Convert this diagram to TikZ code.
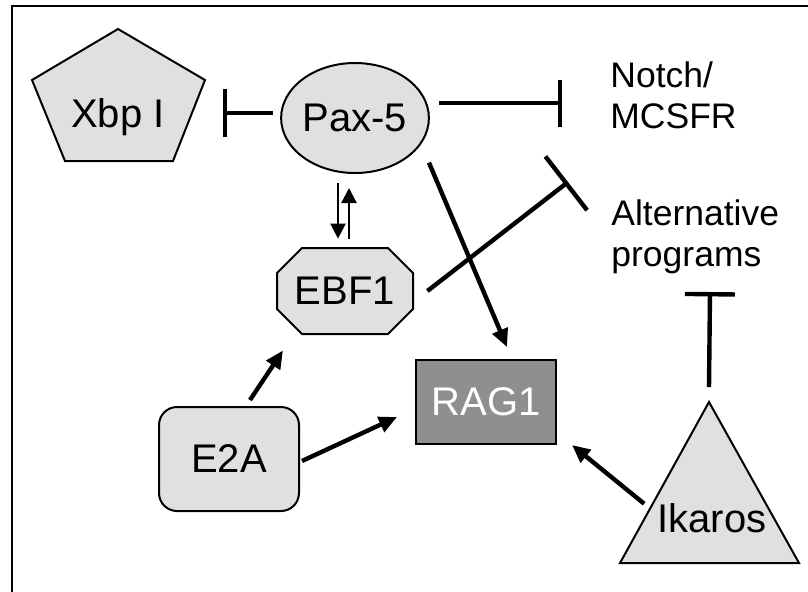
\documentclass[tikz,border=0pt]{standalone}
\usepackage{fontspec}
\setmainfont{Liberation Sans}
\usetikzlibrary{shapes.geometric, arrows.meta}

\begin{document}
\begin{tikzpicture}[
    x=0.5pt, y=-0.5pt,
    every node/.style={font=\fontsize{20}{21}\selectfont, inner sep=0pt},
    factor/.style={draw, fill=black!12, line width=1pt},
    act/.style={-{Triangle[length=9pt, width=8pt]}, line width=2.2pt},
    thin act/.style={-{Triangle[length=7.5pt, width=7.5pt]}, line width=1.2pt},
    inhib/.style={-{Bar[width=#1]}, line width=2.2pt},
    inhib/.default=24pt,
    program/.style={align=left, anchor=north west, font=\fontsize{17.75}{20.5}\selectfont}
]
\useasboundingbox (0,0) rectangle (808,591);
\clip (0,0) rectangle (808,591);

% frame
\draw[line width=1pt] (12,6) rectangle (830,620);

% shapes
\draw[factor] (118,29) -- (205,80) -- (173,161) -- (65,161) -- (32,80) -- cycle;
\node[anchor=base] (xbp) at (118,127) {Xbp I};
\node[factor, ellipse, minimum width=70.5pt, minimum height=55pt] (pax) at (355,118) {Pax-5};
\draw[factor] (302,248) -- (388,248) -- (413,273) -- (413,309) -- (388,334)
    -- (302,334) -- (277,309) -- (277,273) -- cycle;
\node[minimum width=68pt, minimum height=43pt] (ebf) at (345,291) {EBF1};
\node[factor, rounded corners=9pt, minimum width=70pt, minimum height=52pt] (e2a) at (229,459) {E2A};
\node[draw, fill=black!44, line width=1pt, text=white,
      minimum width=70pt, minimum height=42pt] (rag) at (486,402) {RAG1};
\draw[factor] (709,402) -- (799,563) -- (620,563) -- cycle;
\coordinate (ikapex) at (709,402);
\node[anchor=base] (ikaros) at (712,532) {Ikaros};

% targets
\node[program] (notch) at (610,61) {Notch/\\MCSFR};
\node[program] (alt) at (611,199) {Alternative\\programs};
\coordinate (xbpbar) at (223,113);
\coordinate (notchbar) at (562,103);
\coordinate (altbar) at (568,182);
\coordinate (ikbar) at (710,292);

% repression
\draw[inhib] ([xshift=-3.5pt, yshift=2.5pt]pax.west) -- (xbpbar);
\draw[inhib=23.5pt] ([xshift=4.5pt, yshift=7.5pt]pax.east) -- (notchbar);
\draw[inhib=34pt] ([xshift=7pt]ebf.east) -- (altbar);
\draw[inhib=25pt] ([yshift=7.5pt]ikapex) -- (ikbar);

% activation
\draw[thin act] ([xshift=-8.5pt, yshift=-4.5pt]pax.south) -- ([xshift=-3.5pt, yshift=4.5pt]ebf.north);
\draw[thin act] ([xshift=2pt, yshift=4.5pt]ebf.north) -- ([xshift=-3pt, yshift=-7pt]pax.south);
\draw[act] ([xshift=10.5pt, yshift=-2.5pt]pax.south east) -- ([xshift=10.5pt, yshift=6pt]rag.north);
\draw[act] ([xshift=10.5pt, yshift=3pt]e2a.north) -- ([xshift=-31pt, yshift=-8pt]ebf.south);
\draw[act] ([xshift=1pt, yshift=-1pt]e2a.east) -- ([xshift=-9pt, yshift=-7.5pt]rag.west);
\draw[act] ([xshift=-6.5pt, yshift=7pt]ikaros.west) -- ([xshift=7.5pt]rag.south east);

\end{tikzpicture}
\end{document}
